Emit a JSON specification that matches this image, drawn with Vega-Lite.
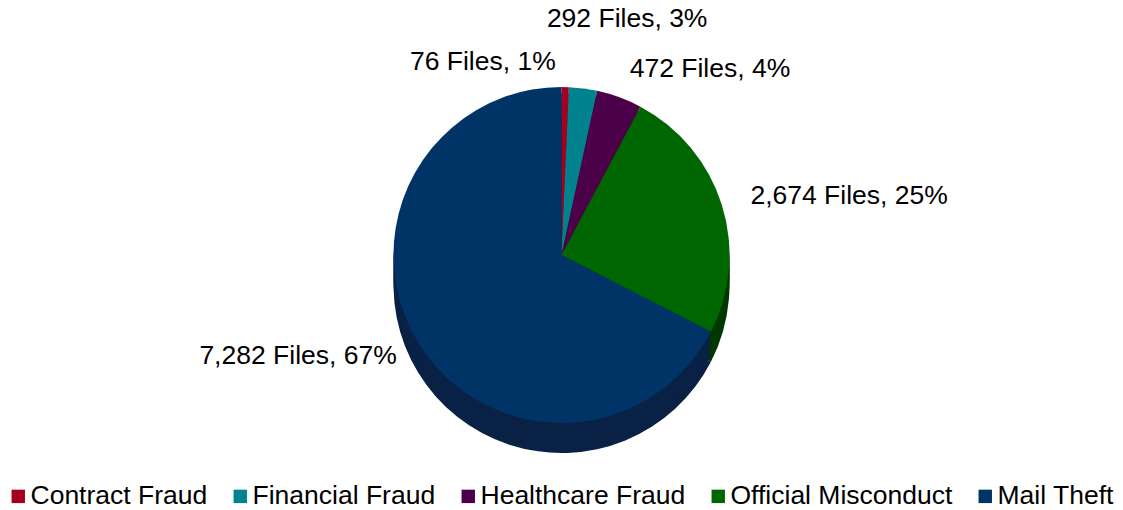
{
  "$schema": "https://vega.github.io/schema/vega-lite/v6.json",
  "width": 1123,
  "height": 510,
  "padding": 0,
  "autosize": {"type": "none"},
  "background": "white",
  "config": {"view": {"stroke": null}},
  "data": {
    "values": [
      {"category": "Contract Fraud", "files": 76, "label": "76 Files, 1%", "order": 1},
      {"category": "Financial Fraud", "files": 292, "label": "292 Files, 3%", "order": 2},
      {"category": "Healthcare Fraud", "files": 472, "label": "472 Files, 4%", "order": 3},
      {"category": "Official Misconduct", "files": 2674, "label": "2,674 Files, 25%", "order": 4},
      {"category": "Mail Theft", "files": 7282, "label": "7,282 Files, 67%", "order": 5}
    ]
  },
  "encoding": {
    "theta": {"field": "files", "type": "quantitative", "stack": true},
    "order": {"field": "order", "type": "quantitative"}
  },
  "layer": [
    {
      "mark": {"type": "arc", "radius": 168, "yOffset": 30},
      "encoding": {"fill": {"field": "category", "type": "nominal", "scale": {"domain": ["Mail Theft", "Official Misconduct", "Healthcare Fraud", "Financial Fraud", "Contract Fraud"], "range": ["#0a2146", "#003800", "#2a0028", "#004a52", "#5a0012"]}, "legend": null}}
    },
    {
      "mark": {"type": "arc", "radius": 168, "yOffset": 24},
      "encoding": {"fill": {"field": "category", "type": "nominal", "legend": null}}
    },
    {
      "mark": {"type": "arc", "radius": 168, "yOffset": 18},
      "encoding": {"fill": {"field": "category", "type": "nominal", "legend": null}}
    },
    {
      "mark": {"type": "arc", "radius": 168, "yOffset": 12},
      "encoding": {"fill": {"field": "category", "type": "nominal", "legend": null}}
    },
    {
      "mark": {"type": "arc", "radius": 168, "yOffset": 6},
      "encoding": {"fill": {"field": "category", "type": "nominal", "legend": null}}
    },
    {
      "mark": {"type": "arc", "radius": 168},
      "encoding": {
        "color": {
          "field": "category",
          "type": "nominal",
          "scale": {"domain": ["Contract Fraud", "Financial Fraud", "Healthcare Fraud", "Official Misconduct", "Mail Theft"], "range": ["#a50021", "#00838f", "#4b0048", "#006600", "#003366"]},
          "legend": {
            "orient": "none",
            "legendX": 5,
            "legendY": 483,
            "direction": "horizontal",
            "columns": 5,
            "title": null,
            "symbolType": "square",
            "symbolSize": 180,
            "symbolStrokeWidth": 0,
            "symbolOpacity": 1,
            "labelFontSize": 26.5,
            "labelFont": "Liberation Sans",
            "labelColor": "#000000",
            "labelLimit": 400,
            "labelOffset": -1,
            "columnPadding": 19
          }
        }
      }
    },
    {
      "mark": {"type": "text", "radius": 193, "dx": -10, "align": "right", "baseline": "middle", "fontSize": 26.5, "font": "Liberation Sans", "color": "#000000"},
      "encoding": {"text": {"condition": {"test": "datum.category === 'Contract Fraud'", "field": "label"}, "value": ""}}
    },
    {
      "mark": {"type": "text", "radius": 193, "align": "right", "baseline": "middle", "fontSize": 26.5, "font": "Liberation Sans", "color": "#000000"},
      "encoding": {"text": {"condition": {"test": "datum.category === 'Mail Theft'", "field": "label"}, "value": ""}}
    },
    {
      "mark": {"type": "text", "radius": 238, "dx": 35, "align": "center", "baseline": "middle", "fontSize": 26.5, "font": "Liberation Sans", "color": "#000000"},
      "encoding": {"text": {"condition": {"test": "datum.category === 'Financial Fraud'", "field": "label"}, "value": ""}}
    },
    {
      "mark": {"type": "text", "radius": 198, "align": "left", "baseline": "middle", "fontSize": 26.5, "font": "Liberation Sans", "color": "#000000"},
      "encoding": {"text": {"condition": {"test": "datum.category === 'Healthcare Fraud' || datum.category === 'Official Misconduct'", "field": "label"}, "value": ""}}
    }
  ]
}
